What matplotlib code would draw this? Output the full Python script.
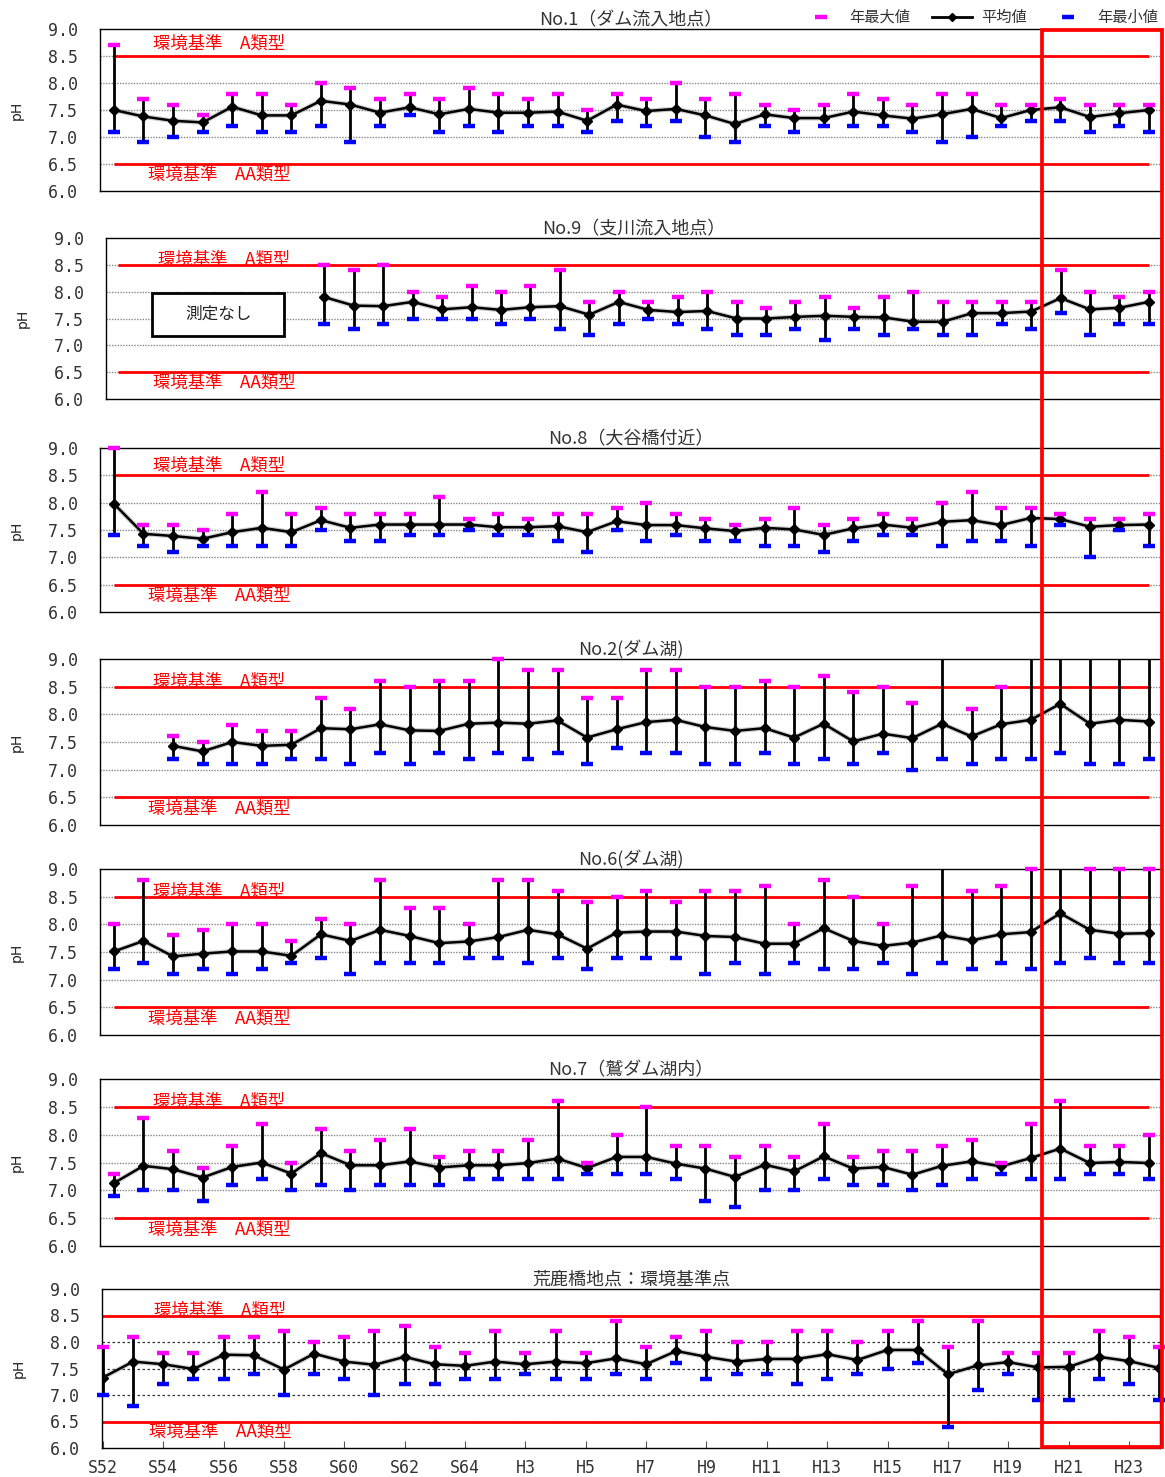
import numpy as np
import matplotlib
matplotlib.use('Agg')
import matplotlib.pyplot as plt
from matplotlib.lines import Line2D
from matplotlib.patches import Rectangle

plt.rcParams['font.family'] = ['Noto Sans CJK JP', 'DejaVu Sans']

nan = np.nan

# S52 (1977) .. H24 (2012), labels every other year
year_labels = ['S52', 'S54', 'S56', 'S58', 'S60', 'S62', 'S64', 'H3', 'H5',
               'H7', 'H9', 'H11', 'H13', 'H15', 'H17', 'H19', 'H21', 'H23']

# No.1 ダム流入地点
no1_max = [8.7, 7.7, 7.6, 7.4, 7.8, 7.8, 7.6, 8.0, 7.9, 7.7, 7.8, 7.7, 7.9, 7.8, 7.7, 7.8, 7.5, 7.8,
           7.7, 8.0, 7.7, 7.8, 7.6, 7.5, 7.6, 7.8, 7.7, 7.6, 7.8, 7.8, 7.6, 7.6, 7.7, 7.6, 7.6, 7.6]
no1_mean = [7.50, 7.38, 7.30, 7.27, 7.56, 7.40, 7.40, 7.67, 7.60, 7.45, 7.55, 7.42, 7.52, 7.45, 7.45, 7.47, 7.30, 7.60,
            7.48, 7.52, 7.40, 7.24, 7.42, 7.35, 7.35, 7.47, 7.40, 7.34, 7.42, 7.52, 7.35, 7.50, 7.55, 7.37, 7.44, 7.50]
no1_min = [7.1, 6.9, 7.0, 7.1, 7.2, 7.1, 7.1, 7.2, 6.9, 7.2, 7.4, 7.1, 7.2, 7.1, 7.2, 7.2, 7.1, 7.3,
           7.2, 7.3, 7.0, 6.9, 7.2, 7.1, 7.2, 7.2, 7.2, 7.1, 6.9, 7.0, 7.2, 7.3, 7.3, 7.1, 7.2, 7.1]

# No.9 支川流入地点 (no data before S59)
no9_max = [nan] * 7 + [8.5, 8.4, 8.5, 8.0, 7.9, 8.1, 8.0, 8.1, 8.4, 7.8, 8.0, 7.8, 7.9, 8.0, 7.8,
                       7.7, 7.8, 7.9, 7.7, 7.9, 8.0, 7.8, 7.8, 7.8, 7.8, 8.4, 8.0, 7.9, 8.0]
no9_mean = [nan] * 7 + [7.90, 7.74, 7.73, 7.81, 7.67, 7.71, 7.66, 7.71, 7.73, 7.57, 7.81, 7.66, 7.62, 7.64, 7.50,
                        7.50, 7.53, 7.55, 7.53, 7.52, 7.44, 7.44, 7.60, 7.60, 7.63, 7.88, 7.67, 7.70, 7.81]
no9_min = [nan] * 7 + [7.4, 7.3, 7.4, 7.5, 7.5, 7.5, 7.4, 7.5, 7.3, 7.2, 7.4, 7.5, 7.4, 7.3, 7.2,
                       7.2, 7.3, 7.1, 7.3, 7.2, 7.3, 7.2, 7.2, 7.4, 7.3, 7.6, 7.2, 7.4, 7.4]

# No.8 大谷橋付近
no8_max = [9.0, 7.6, 7.6, 7.5, 7.8, 8.2, 7.8, 7.9, 7.8, 7.8, 7.8, 8.1, 7.7, 7.8, 7.7, 7.8, 7.8, 7.9,
           8.0, 7.8, 7.7, 7.6, 7.7, 7.9, 7.6, 7.7, 7.8, 7.7, 8.0, 8.2, 7.9, 7.9, 7.8, 7.7, 7.7, 7.8]
no8_mean = [7.98, 7.43, 7.39, 7.34, 7.46, 7.54, 7.46, 7.68, 7.54, 7.60, 7.60, 7.60, 7.60, 7.55, 7.55, 7.57, 7.46, 7.66,
            7.59, 7.59, 7.53, 7.48, 7.54, 7.51, 7.41, 7.53, 7.60, 7.54, 7.65, 7.68, 7.59, 7.72, 7.70, 7.56, 7.59, 7.60]
no8_min = [7.4, 7.2, 7.1, 7.2, 7.2, 7.2, 7.2, 7.5, 7.3, 7.3, 7.4, 7.4, 7.5, 7.4, 7.4, 7.3, 7.1, 7.5,
           7.3, 7.4, 7.3, 7.3, 7.2, 7.2, 7.1, 7.3, 7.4, 7.4, 7.2, 7.3, 7.3, 7.2, 7.6, 7.0, 7.5, 7.2]

# No.2 ダム湖 (from S54; maxima above 9.0 run off the scale)
no2_max = [nan, nan, 7.6, 7.5, 7.8, 7.7, 7.7, 8.3, 8.1, 8.6, 8.5, 8.6, 8.6, 9.0, 8.8, 8.8, 8.3, 8.3,
           8.8, 8.8, 8.5, 8.5, 8.6, 8.5, 8.7, 8.4, 8.5, 8.2, 9.2, 8.1, 8.5, 9.2, 9.2, 9.2, 9.2, 9.2]
no2_mean = [nan, nan, 7.43, 7.33, 7.50, 7.43, 7.45, 7.75, 7.73, 7.82, 7.71, 7.70, 7.83, 7.85, 7.83, 7.89, 7.58, 7.73,
            7.86, 7.90, 7.77, 7.70, 7.75, 7.58, 7.83, 7.51, 7.65, 7.57, 7.83, 7.60, 7.82, 7.90, 8.19, 7.83, 7.90, 7.87]
no2_min = [nan, nan, 7.2, 7.1, 7.1, 7.1, 7.2, 7.2, 7.1, 7.3, 7.1, 7.3, 7.2, 7.3, 7.2, 7.3, 7.1, 7.4,
           7.3, 7.3, 7.1, 7.1, 7.3, 7.1, 7.2, 7.1, 7.3, 7.0, 7.2, 7.1, 7.2, 7.2, 7.3, 7.1, 7.1, 7.2]

# No.6 ダム湖
no6_max = [8.0, 8.8, 7.8, 7.9, 8.0, 8.0, 7.7, 8.1, 8.0, 8.8, 8.3, 8.3, 8.0, 8.8, 8.8, 8.6, 8.4, 8.5,
           8.6, 8.4, 8.6, 8.6, 8.7, 8.0, 8.8, 8.5, 8.0, 8.7, 9.2, 8.6, 8.7, 9.0, 9.2, 9.0, 9.0, 9.0]
no6_mean = [7.51, 7.70, 7.42, 7.47, 7.51, 7.51, 7.43, 7.82, 7.70, 7.90, 7.79, 7.66, 7.69, 7.77, 7.90, 7.82, 7.56, 7.85,
            7.87, 7.87, 7.79, 7.77, 7.65, 7.65, 7.93, 7.70, 7.61, 7.67, 7.80, 7.71, 7.82, 7.86, 8.20, 7.90, 7.83, 7.84]
no6_min = [7.2, 7.3, 7.1, 7.2, 7.1, 7.2, 7.3, 7.4, 7.1, 7.3, 7.3, 7.3, 7.4, 7.4, 7.3, 7.4, 7.2, 7.4,
           7.4, 7.4, 7.1, 7.3, 7.1, 7.3, 7.2, 7.2, 7.3, 7.1, 7.3, 7.2, 7.3, 7.2, 7.3, 7.4, 7.3, 7.3]

# No.7 鷲ダム湖内
no7_max = [7.3, 8.3, 7.7, 7.4, 7.8, 8.2, 7.5, 8.1, 7.7, 7.9, 8.1, 7.6, 7.7, 7.7, 7.9, 8.6, 7.5, 8.0,
           8.5, 7.8, 7.8, 7.6, 7.8, 7.6, 8.2, 7.6, 7.7, 7.7, 7.8, 7.9, 7.5, 8.2, 8.6, 7.8, 7.8, 8.0]
no7_mean = [7.13, 7.44, 7.38, 7.23, 7.42, 7.50, 7.30, 7.67, 7.45, 7.45, 7.52, 7.41, 7.45, 7.45, 7.49, 7.57, 7.40, 7.60,
            7.60, 7.48, 7.39, 7.24, 7.46, 7.34, 7.61, 7.39, 7.42, 7.28, 7.44, 7.52, 7.43, 7.58, 7.75, 7.49, 7.51, 7.49]
no7_min = [6.9, 7.0, 7.0, 6.8, 7.1, 7.2, 7.0, 7.1, 7.0, 7.1, 7.1, 7.1, 7.2, 7.2, 7.2, 7.2, 7.3, 7.3,
           7.3, 7.2, 6.8, 6.7, 7.0, 7.0, 7.2, 7.1, 7.1, 7.0, 7.1, 7.2, 7.3, 7.2, 7.2, 7.3, 7.3, 7.2]

# 荒鹿橋地点 (環境基準点)
arashika_max = [7.9, 8.1, 7.8, 7.8, 8.1, 8.1, 8.2, 8.0, 8.1, 8.2, 8.3, 7.9, 7.8, 8.2, 7.8, 8.2, 7.8, 8.4,
                7.9, 8.1, 8.2, 8.0, 8.0, 8.2, 8.2, 8.0, 8.2, 8.4, 7.9, 8.4, 7.8, 7.8, 7.8, 8.2, 8.1, 7.9]
arashika_mean = [7.33, 7.63, 7.58, 7.49, 7.76, 7.75, 7.48, 7.78, 7.63, 7.57, 7.72, 7.58, 7.55, 7.63, 7.58, 7.63, 7.60, 7.69,
                 7.58, 7.83, 7.72, 7.63, 7.68, 7.68, 7.77, 7.66, 7.85, 7.85, 7.39, 7.56, 7.62, 7.52, 7.53, 7.72, 7.64, 7.51]
arashika_min = [7.0, 6.8, 7.2, 7.3, 7.3, 7.4, 7.0, 7.4, 7.3, 7.0, 7.2, 7.2, 7.3, 7.3, 7.4, 7.3, 7.3, 7.4,
                7.3, 7.6, 7.3, 7.4, 7.4, 7.2, 7.3, 7.4, 7.5, 7.6, 6.4, 7.1, 7.4, 6.9, 6.9, 7.3, 7.2, 6.9]

W, H = 1165, 1477
fig = plt.figure(figsize=(W / 100, H / 100), dpi=100)

MAGENTA = '#FF00FF'
BLUE = '#0000FF'
TXT = '#333333'


def px_axes(x0, y0, x1, y1):
    return fig.add_axes([x0 / W, 1 - y1 / H, (x1 - x0) / W, (y1 - y0) / H])


def draw_station(ax, title, vmax, vmean, vmin, xlim, a_y=8.6, last=False):
    vmax = np.array(vmax, float)
    vmean = np.array(vmean, float)
    vmin = np.array(vmin, float)
    x = np.arange(len(vmean))
    ax.set_xlim(*xlim)
    ax.set_ylim(6.0, 9.0)

    gstyle = dict(color='#333333', ls=(0, (2, 2)), lw=0.9) if last else \
        dict(color='#888888', ls=(0, (1, 1)), lw=1.0)
    for g in [6.5, 7.0, 7.5, 8.0, 8.5]:
        ax.axhline(g, zorder=1, **gstyle)
    if last:
        ax.axhline(8.5, color='red', lw=2, zorder=2)
        ax.axhline(6.5, color='red', lw=2, zorder=2)
    else:
        ax.hlines([8.5, 6.5], x[0], x[-1], color='red', lw=2, zorder=2)

    ax.vlines(x, vmin, vmax, color='black', lw=2, zorder=3)
    ax.plot(x, vmean, color='#777777', lw=3.5, alpha=0.35, zorder=3.5)
    ax.plot(x, vmean, color='black', lw=1.8, marker='D', ms=5, zorder=4)
    cap_top = np.where(vmax <= 9.0, vmax, nan)
    ax.plot(x, cap_top, ls='none', marker='_', ms=8.5, mew=3.2, color=MAGENTA, zorder=5, clip_on=False)
    ax.plot(x, vmin, ls='none', marker='_', ms=8.5, mew=3.2, color=BLUE, zorder=5, clip_on=False)

    yt = np.arange(6.0, 9.01, 0.5)
    ax.set_yticks(yt)
    ax.set_yticklabels([f'{v:.1f}' for v in yt], family='DejaVu Sans Mono', fontsize=12, color=TXT)
    ax.tick_params(axis='y', length=0, pad=16)
    if last:
        ax.set_xticks(x[::2])
        ax.set_xticklabels(year_labels, family='DejaVu Sans Mono', fontsize=12, color=TXT)
        ax.tick_params(axis='x', direction='in', length=5, pad=8, color='#555555')
    else:
        ax.set_xticks([])

    ax.set_ylabel('pH', fontsize=10, family='DejaVu Sans', color='#222222')
    ax.yaxis.set_label_coords(-0.072, 0.5)
    ax.set_title(title, fontsize=13, color=TXT, pad=2)

    tr = ax.get_yaxis_transform()
    ax.text(0.112, a_y, '環境基準\u3000A類型', transform=tr, color='red', fontsize=12.5,
            ha='center', va='center', zorder=6)
    ax.text(0.112, 6.3, '環境基準\u3000AA類型', transform=tr, color='red', fontsize=12.5,
            ha='center', va='center', zorder=6)
    for s in ax.spines.values():
        s.set_linewidth(1.0)


ax1 = px_axes(100, 29, 1162, 191)
draw_station(ax1, 'No.1（ダム流入地点）', no1_max, no1_mean, no1_min, (-0.47, 35.44), a_y=8.72)

ax2 = px_axes(106, 238, 1161, 399)
draw_station(ax2, 'No.9（支川流入地点）', no9_max, no9_mean, no9_min, (-0.41, 35.41), a_y=8.6)
ax2.add_patch(Rectangle((1.15, 7.18), 4.5, 0.79, facecolor='white', edgecolor='black', lw=2, zorder=6))
ax2.text(3.4, 7.575, '測定なし', fontsize=12, ha='center', va='center', color='#222222', zorder=7)

ax3 = px_axes(100, 448, 1162, 612)
draw_station(ax3, 'No.8（大谷橋付近）', no8_max, no8_mean, no8_min, (-0.47, 35.44), a_y=8.68)

ax4 = px_axes(100, 659, 1162, 825)
draw_station(ax4, 'No.2(ダム湖)', no2_max, no2_mean, no2_min, (-0.47, 35.44))

ax5 = px_axes(100, 869, 1162, 1035)
draw_station(ax5, 'No.6(ダム湖)', no6_max, no6_mean, no6_min, (-0.47, 35.44))

ax6 = px_axes(100, 1079, 1162, 1246)
draw_station(ax6, 'No.7（鷲ダム湖内）', no7_max, no7_mean, no7_min, (-0.47, 35.44))

ax7 = px_axes(102, 1289, 1160, 1448)
draw_station(ax7, '荒鹿橋地点：環境基準点', arashika_max, arashika_mean, arashika_min,
             (-0.03, 35.03), last=True)

handles = [
    Line2D([], [], color=MAGENTA, marker='_', ls='none', ms=8, mew=3.2),
    Line2D([], [], color='black', lw=2, marker='D', ms=4),
    Line2D([], [], color=BLUE, marker='_', ls='none', ms=8, mew=3.2),
]
fig.legend(handles, ['年最大値', '平均値', '年最小値'], loc='upper right',
           bbox_to_anchor=(1158 / W, 1 - 9 / H), ncol=3, frameon=False, fontsize=11,
           handlelength=2.6, handletextpad=0.6, columnspacing=1.4,
           borderaxespad=0, borderpad=0, labelcolor=TXT)

# highlight box over the latest years
fig.add_artist(Rectangle((1042 / W, 1 - 1447 / H), (1162 - 1042) / W, (1447 - 30) / H,
                         transform=fig.transFigure, fill=False, edgecolor='red', lw=2.7, zorder=10))

fig.savefig('out.png', dpi=100)
